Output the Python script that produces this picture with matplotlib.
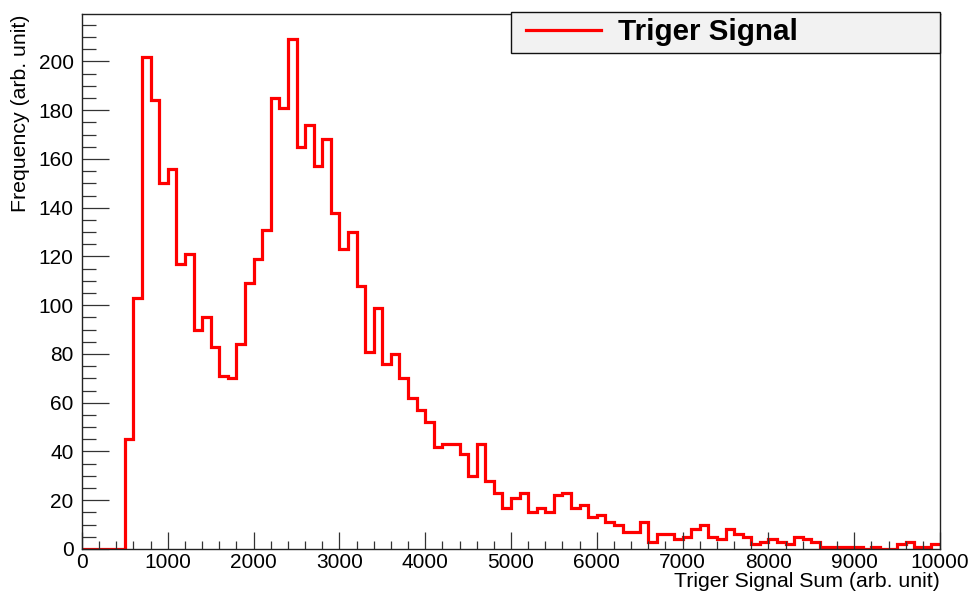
import matplotlib
matplotlib.use("Agg")
import matplotlib.pyplot as plt
from matplotlib.lines import Line2D
from matplotlib.legend_handler import HandlerLine2D
from matplotlib.ticker import MultipleLocator
import numpy as np

plt.rcParams['font.family'] = ['Liberation Sans', 'DejaVu Sans']

# ---- data ----
bin_width = 100
x_min = 0
x_max = 10000
counts = [
    0, 0, 0, 0, 0, 45, 103, 202, 184, 150,
    156, 117, 121, 90, 95, 83, 71, 70, 84, 109,
    119, 131, 185, 181, 209, 165, 174, 157, 168, 138,
    123, 130, 108, 81, 99, 76, 80, 70, 62, 57,
    52, 42, 43, 43, 39, 30, 43, 28, 23, 17,
    21, 23, 15, 17, 15, 22, 23, 17, 18, 13,
    14, 11, 10, 7, 7, 11, 3, 6, 6, 4,
    5, 8, 10, 5, 4, 8, 6, 5, 2, 3,
    4, 3, 2, 5, 4, 3, 1, 1, 1, 1,
    1, 0, 1, 0, 0, 2, 3, 1, 1, 2,
]
x_ticks = [0, 1000, 2000, 3000, 4000, 5000, 6000, 7000, 8000, 9000, 10000]
y_ticks = [0, 20, 40, 60, 80, 100, 120, 140, 160, 180, 200]
series_label = "Triger Signal"
x_title = "Triger Signal Sum (arb. unit)"
y_title = "Frequency (arb. unit)"

edges = np.arange(x_min, x_max + bin_width, bin_width)

W, H = 974, 601
fig = plt.figure(figsize=(W / 100, H / 100), dpi=100)
ax = fig.add_axes([82 / W, 1 - 549 / H, (940 - 82) / W, (549 - 14) / H])

red = '#ff0000'
ax.stairs(counts, edges, baseline=None, color=red, linewidth=2.3)

ax.set_xlim(x_min, x_max)
ax.set_ylim(0, max(counts) * 1.05)

ax.set_xticks(x_ticks)
ax.set_yticks(y_ticks)
ax.xaxis.set_minor_locator(MultipleLocator(200))
ax.yaxis.set_minor_locator(MultipleLocator(5))
ax.tick_params(axis='x', which='major', direction='in', length=12, width=0.9,
               labelsize=15, pad=3, top=False, color='#333333')
ax.tick_params(axis='x', which='minor', direction='in', length=6, width=0.9,
               top=False, color='#333333')
ax.tick_params(axis='y', which='major', direction='in', length=19.5, width=0.9,
               labelsize=15, pad=6, right=False, color='#333333')
ax.tick_params(axis='y', which='minor', direction='in', length=10, width=0.9,
               right=False, color='#333333')
for s in ax.spines.values():
    s.set_linewidth(1.0)
    s.set_color('#222222')

ax.set_xlabel(x_title, fontsize=15.3, ha='right', x=1.0, labelpad=0)
ax.set_ylabel(y_title, fontsize=15.3, ha='right', y=1.0, labelpad=6)

handle = Line2D([], [], color=red, linewidth=2.3)
leg = ax.legend(handles=[handle], labels=[series_label],
                loc='upper left',
                bbox_to_anchor=(511 / W, 1 - 52 / H, (940 - 511) / W, 40 / H),
                bbox_transform=fig.transFigure, mode='expand', borderaxespad=0,
                fancybox=False, frameon=True, framealpha=1,
                facecolor='#f2f2f2', edgecolor='#111111',
                prop={'weight': 'bold', 'size': 21.3},
                handlelength=2.82, handletextpad=0.574, borderpad=0.215,
                handler_map={Line2D: HandlerLine2D(xpad=0.29)})
leg.get_frame().set_linewidth(1.0)

fig.savefig('out.png', dpi=100)
